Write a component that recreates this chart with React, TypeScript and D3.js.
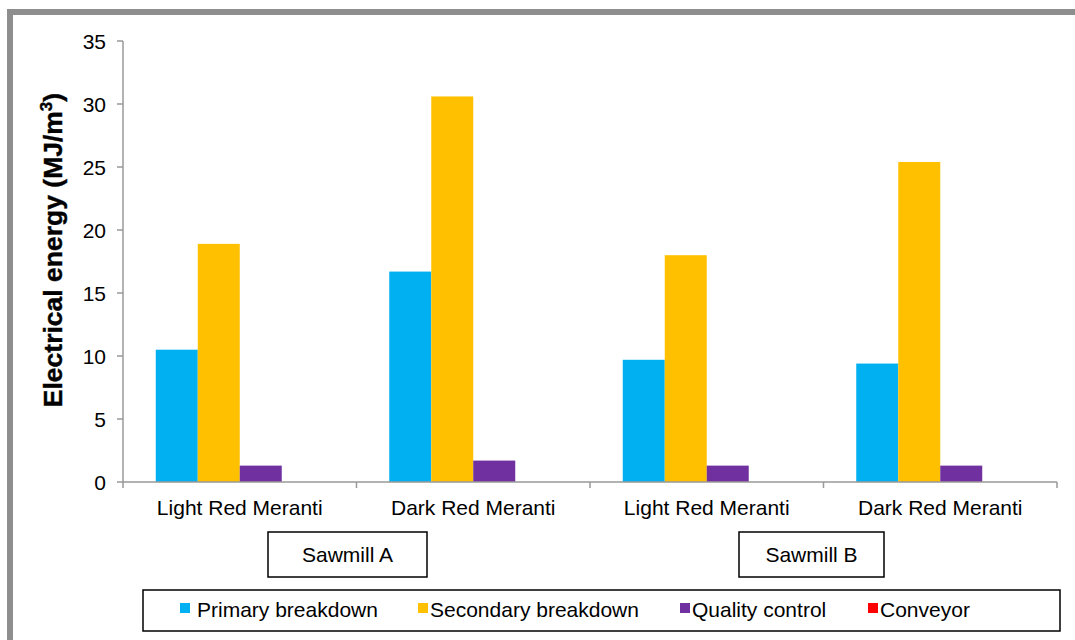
import React from "react";
import * as d3 from "d3";

// Electrical energy use per sawing stage, by sawmill and timber species
const categories = ["Light Red Meranti", "Dark Red Meranti", "Light Red Meranti", "Dark Red Meranti"];
const seriesNames = ["Primary breakdown", "Secondary breakdown", "Quality control", "Conveyor"];
const primaryBreakdown = [10.5, 16.7, 9.7, 9.4];
const secondaryBreakdown = [18.9, 30.6, 18.0, 25.4];
const qualityControl = [1.3, 1.7, 1.3, 1.3];
const conveyor = [0, 0, 0, 0];
const seriesColors = ["#00B0F0", "#FFC000", "#7030A0", "#FF0000"];
const yTicks = [0, 5, 10, 15, 20, 25, 30, 35];
const sawmills = ["Sawmill A", "Sawmill B"];

const W = 1075;
const H = 640;
const left = 123;
const right = 1057;
const top = 41;
const bottom = 482;
const font = "'Liberation Sans', Arial, sans-serif";

export default function App() {
  const series = [primaryBreakdown, secondaryBreakdown, qualityControl, conveyor];
  const idx = categories.map((_, i) => String(i));

  const x0 = d3.scaleBand<string>().domain(idx).range([left, right]).padding(0);
  const x1 = d3
    .scaleBand<string>()
    .domain(seriesNames)
    .range([0, x0.bandwidth()])
    .paddingInner(0)
    .paddingOuter(0.78);
  const y = d3.scaleLinear().domain([0, 35]).range([bottom, top]);

  const boundaries = [...idx.map((d) => x0(d) as number), right];

  // sawmill label boxes, each spanning two categories
  const sawBoxes = [
    { label: sawmills[0], x: 268, w: 159 },
    { label: sawmills[1], x: 739, w: 145 },
  ];

  const legendItems = [
    { sx: 180, tx: 197 },
    { sx: 418, tx: 430 },
    { sx: 680, tx: 692 },
    { sx: 868, tx: 880 },
  ];

  return (
    <svg
      width={W}
      height={H}
      style={{ position: "absolute", left: 0, top: 0, background: "#fff" }}
      fontFamily={font}
    >
      <rect x={0} y={0} width={W} height={H} fill="#fff" />
      {/* outer frame */}
      <rect x={10} y={12} width={W + 20} height={H + 20} fill="none" stroke="#8E8E8E" strokeWidth={6} />

      {/* bars */}
      {idx.map((c, ci) => (
        <g key={c} transform={`translate(${x0(c)},0)`}>
          {series.map((vals, si) => {
            const v = vals[ci];
            const h = bottom - y(v);
            if (h <= 0) return null;
            return (
              <rect
                key={si}
                x={x1(seriesNames[si])}
                y={y(v)}
                width={x1.bandwidth()}
                height={h}
                fill={seriesColors[si]}
              />
            );
          })}
        </g>
      ))}

      {/* y axis */}
      <line x1={left} x2={left} y1={top} y2={bottom} stroke="#999" strokeWidth={1.5} />
      {yTicks.map((t) => (
        <g key={t}>
          <line x1={left - 6} x2={left} y1={y(t)} y2={y(t)} stroke="#999" strokeWidth={1.5} />
          <text x={106} y={y(t) + 7.5} textAnchor="end" fontSize={21} fill="#000">
            {t}
          </text>
        </g>
      ))}

      {/* x axis */}
      <line x1={left} x2={right} y1={bottom} y2={bottom} stroke="#999" strokeWidth={1.5} />
      {boundaries.map((bx, i) => (
        <line key={i} x1={bx} x2={bx} y1={bottom} y2={bottom + 6} stroke="#999" strokeWidth={1.5} />
      ))}
      {categories.map((c, i) => (
        <text
          key={i}
          x={(x0(String(i)) as number) + x0.bandwidth() / 2}
          y={515}
          textAnchor="middle"
          fontSize={21}
          fill="#000"
        >
          {c}
        </text>
      ))}

      {/* y axis title */}
      <text
        transform="translate(62,250) rotate(-90)"
        textAnchor="middle"
        fontSize={26.5}
        fontWeight="bold"
        fill="#000"
        stroke="#000"
        strokeWidth={0.4}
      >
        Electrical energy (MJ/m
        <tspan fontSize={17} dy={-10}>3</tspan>
        <tspan dy={10}>)</tspan>
      </text>

      {/* sawmill boxes */}
      {sawBoxes.map((b) => (
        <g key={b.label}>
          <rect x={b.x} y={532} width={b.w} height={45} fill="#fff" stroke="#000" strokeWidth={1.5} />
          <text x={b.x + b.w / 2} y={562} textAnchor="middle" fontSize={21} fill="#000">
            {b.label}
          </text>
        </g>
      ))}

      {/* legend */}
      <rect x={143} y={590} width={917} height={41} fill="#fff" stroke="#000" strokeWidth={1.5} />
      {seriesNames.map((name, i) => (
        <g key={name}>
          <rect x={legendItems[i].sx} y={603} width={10} height={10} fill={seriesColors[i]} />
          <text x={legendItems[i].tx} y={617} fontSize={21} fill="#000">
            {name}
          </text>
        </g>
      ))}
    </svg>
  );
}
